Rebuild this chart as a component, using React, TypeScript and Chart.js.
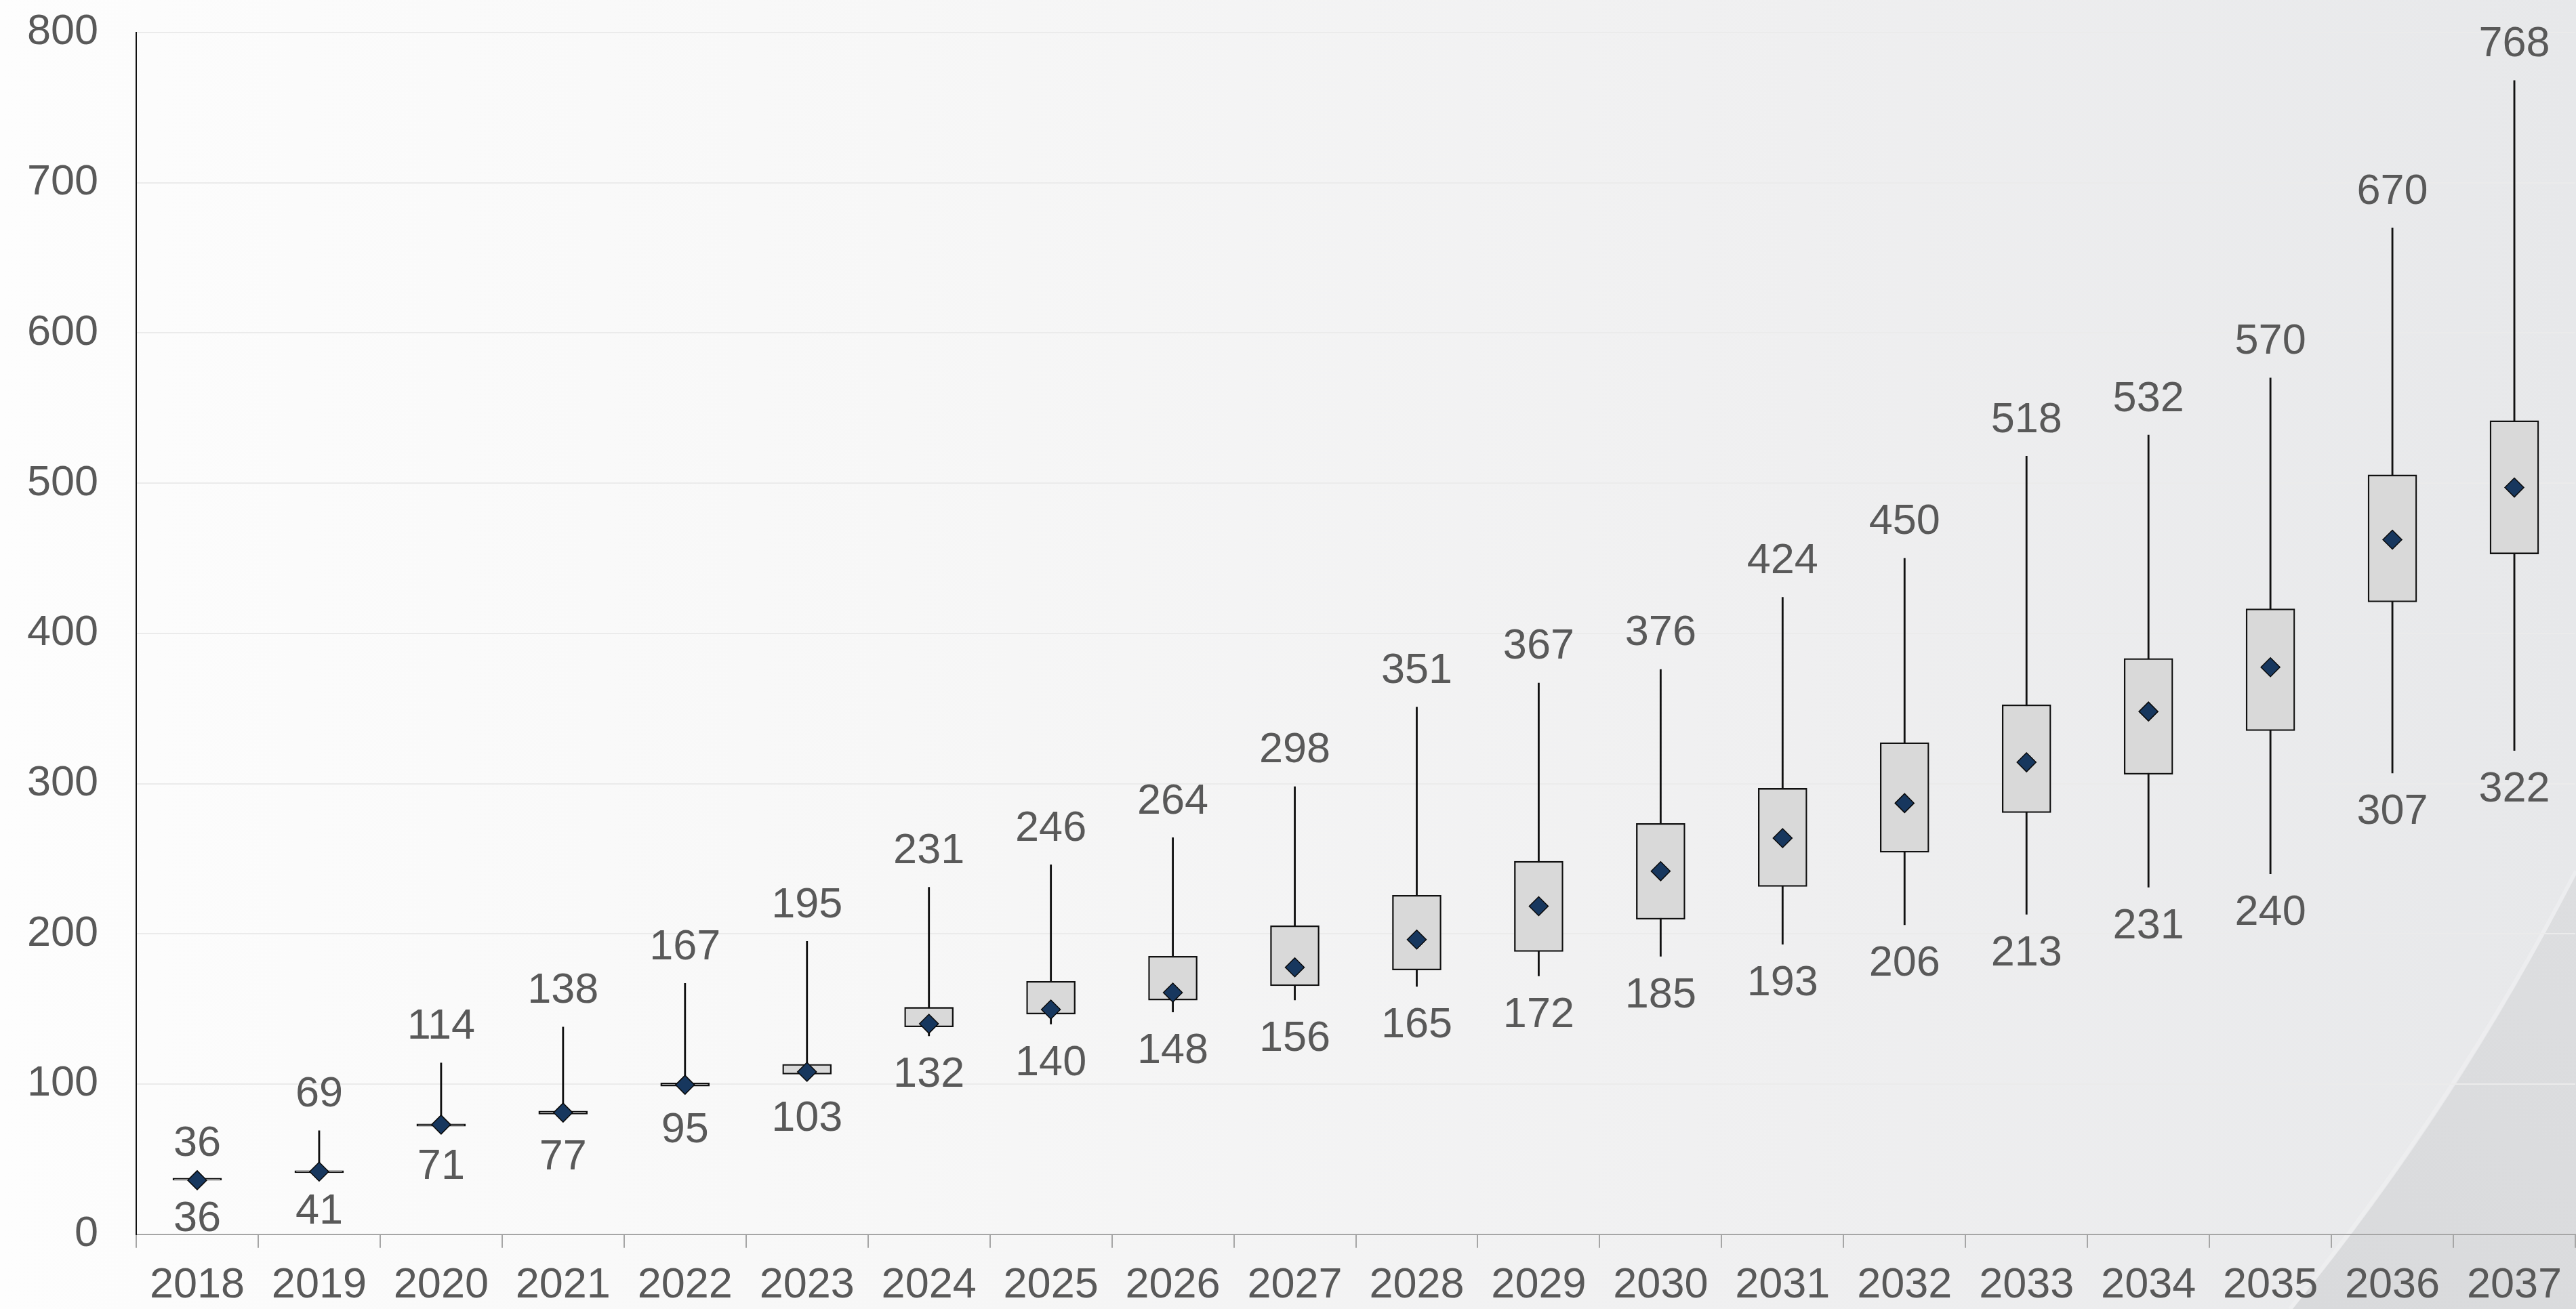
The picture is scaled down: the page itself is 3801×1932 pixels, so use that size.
import React, { useEffect, useRef } from "react";
import { Chart, registerables } from "chart.js";

Chart.register(...registerables);

const years = ["2018","2019","2020","2021","2022","2023","2024","2025","2026","2027","2028","2029","2030","2031","2032","2033","2034","2035","2036","2037"];
const maxValues = [36, 69, 114, 138, 167, 195, 231, 246, 264, 298, 351, 367, 376, 424, 450, 518, 532, 570, 670, 768];
const minValues = [36, 41, 71, 77, 95, 103, 132, 140, 148, 156, 165, 172, 185, 193, 206, 213, 231, 240, 307, 322];
const q1Values = [36, 41, 72, 80, 98.6, 106.6, 138, 146.6, 155.9, 165.4, 175.9, 188.2, 209.7, 231.5, 254.3, 280.7, 306.2, 335.2, 420.9, 452.9];
const q3Values = [36, 42, 73.5, 82, 100.7, 113.2, 151.1, 168.4, 185.1, 205.4, 225.7, 248.3, 273.5, 296.9, 327.3, 352.5, 383.3, 416.4, 505.5, 541.6];
const meanValues = [36, 41.7, 73, 81, 99.5, 108.1, 140.1, 149.6, 160.9, 177.7, 196.2, 218.4, 241.7, 263.7, 287.0, 314.2, 348.0, 377.5, 462.4, 497.1];
const yTicks = [0, 100, 200, 300, 400, 500, 600, 700, 800];

const FONT = "'Liberation Sans', Arial, sans-serif";
const TEXT = "#595959";

const backgroundPlugin = {
  id: "bgPaint",
  beforeDraw(chart: any) {
    const { ctx, width, height } = chart;
    ctx.save();
    const g = ctx.createLinearGradient(0, 0, width, 0);
    g.addColorStop(0, "#FDFDFD");
    g.addColorStop(0.35, "#F7F7F7");
    g.addColorStop(0.7, "#EFEFF0");
    g.addColorStop(1, "#E7E8EA");
    ctx.fillStyle = g;
    ctx.fillRect(0, 0, width, height);
    // decorative swoosh bottom-right
    const sx = width * 0.89;
    ctx.beginPath();
    ctx.moveTo(sx, height);
    ctx.quadraticCurveTo(width * 0.9545, height * 0.8445, width, height * 0.668);
    ctx.lineTo(width, height);
    ctx.closePath();
    const g2 = ctx.createLinearGradient(sx, height, width, height * 0.668);
    g2.addColorStop(0, "#D9DADC");
    g2.addColorStop(1, "#DDDEE0");
    ctx.fillStyle = g2;
    ctx.fill();
    ctx.beginPath();
    ctx.moveTo(sx - 4, height);
    ctx.quadraticCurveTo(width * 0.9545 - 4, height * 0.8445 - 4, width, height * 0.668 - 5);
    ctx.strokeStyle = "rgba(240,240,241,0.6)";
    ctx.lineWidth = 6;
    ctx.stroke();
    ctx.restore();
  },
};

const labelPlugin = {
  id: "minMaxLabels",
  afterDatasetsDraw(chart: any) {
    const { ctx } = chart;
    const xs = chart.scales.x;
    const ys = chart.scales.y;
    ctx.save();
    ctx.font = `63px ${FONT}`;
    ctx.fillStyle = TEXT;
    ctx.textAlign = "center";
    ctx.textBaseline = "middle";
    years.forEach((_, i) => {
      const x = xs.getPixelForValue(i);
      ctx.fillText(String(maxValues[i]), x, ys.getPixelForValue(maxValues[i]) - 53);
      ctx.fillText(String(minValues[i]), x, ys.getPixelForValue(minValues[i]) + 58);
    });
    ctx.restore();
  },
};

export default function App() {
  const ref = useRef<HTMLCanvasElement | null>(null);
  useEffect(() => {
    if (!ref.current) return;
    const chart = new Chart(ref.current, {
      type: "bar",
      data: {
        labels: years,
        datasets: [
          {
            type: "line",
            label: "Mean",
            data: meanValues,
            showLine: false,
            pointStyle: "rectRot",
            pointRadius: 14,
            pointHoverRadius: 14,
            pointBackgroundColor: "#17375E",
            pointBorderColor: "#0A0A0A",
            pointBorderWidth: 1.5,
            order: 1,
          } as any,
          {
            type: "bar",
            label: "Box",
            data: years.map((_, i) => [q1Values[i], q3Values[i]]),
            backgroundColor: "#D9D9D9",
            borderColor: "#111111",
            borderWidth: 2.3,
            borderSkipped: false,
            barThickness: 72,
            minBarLength: 3,
            grouped: false,
            order: 2,
          } as any,
          {
            type: "bar",
            label: "Whisker",
            data: years.map((_, i) => [minValues[i], maxValues[i]]),
            backgroundColor: "#111111",
            borderWidth: 0,
            barThickness: 2.2,
            grouped: false,
            order: 3,
          } as any,
        ],
      },
      options: {
        animation: false,
        responsive: false,
        layout: { autoPadding: false, padding: { top: 48, left: 0, right: 1, bottom: 0 } },
        plugins: { legend: { display: false }, tooltip: { enabled: false } },
        scales: {
          x: {
            type: "category",
            offset: true,
            grid: {
              offset: true,
              drawOnChartArea: false,
              drawTicks: true,
              tickLength: 20,
              color: "#A6A6A6",
              lineWidth: 2,
            },
            border: { display: true, color: "#A6A6A6", width: 2 },
            ticks: {
              color: TEXT,
              font: { family: FONT, size: 63, lineHeight: 1.771 },
              padding: 0,
              maxRotation: 0,
              autoSkip: false,
            },
            afterFit: (s: any) => {
              s.height = 110.3;
              s.paddingLeft = 0;
              s.paddingRight = 0;
            },
          },
          y: {
            min: 0,
            max: 800,
            afterBuildTicks: (s: any) => {
              s.ticks = yTicks.map((v) => ({ value: v }));
            },
            grid: {
              drawTicks: false,
              color: "#EBEBEB",
              lineWidth: 2,
            },
            border: { display: true, color: "#111111", width: 2 },
            ticks: {
              color: TEXT,
              font: { family: FONT, size: 63 },
              padding: 56,
            },
            afterFit: (s: any) => {
              s.width = 201;
              s.paddingTop = 0;
              s.paddingBottom = 0;
              s.paddingLeft = 0;
              s.paddingRight = 0;
            },
          },
        },
      } as any,
      plugins: [backgroundPlugin, labelPlugin],
    });
    return () => chart.destroy();
  }, []);
  return (
    <div style={{ position: "fixed", left: 0, top: 0, width: 3801, height: 1932, overflow: "hidden" }}>
      <canvas ref={ref} width={3801} height={1932} style={{ display: "block", width: 3801, height: 1932 }} />
    </div>
  );
}
